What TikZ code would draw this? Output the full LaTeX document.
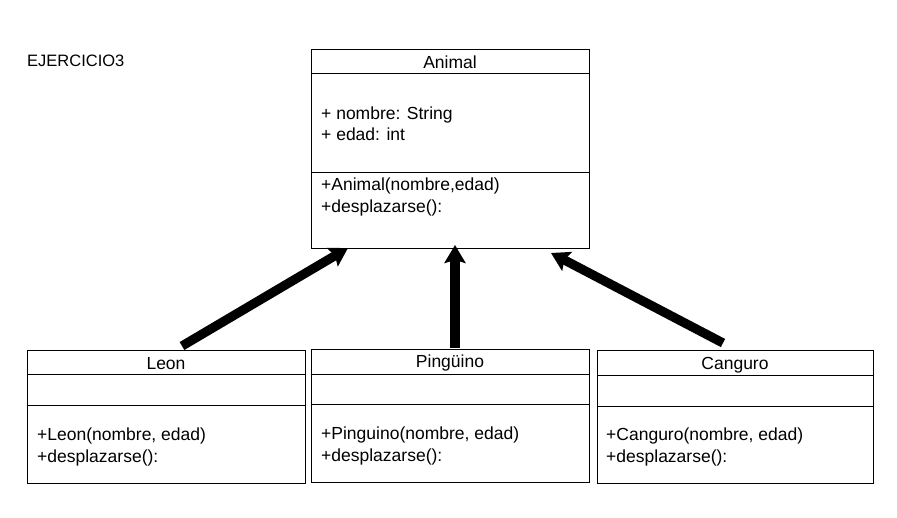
\documentclass[tikz,border=0pt]{standalone}
\usepackage{fontspec}
\setmainfont{Liberation Sans}
\usetikzlibrary{arrows.meta}
\begin{document}
\begin{tikzpicture}[x=1pt,y=-1pt,
  umlbox/.style={draw, line width=0.9pt, anchor=north west, inner sep=0pt, minimum width=#1},
  txt/.style={anchor=base west, inner sep=0pt, font=\fontsize{17.5}{22}\selectfont},
  ttl/.style={anchor=base, inner sep=0pt, font=\fontsize{17.5}{22}\selectfont},
  sep/.style={line width=0.9pt},
  inh/.style={line width=9.2pt, -{Stealth[length=18pt,width=21pt,inset=3pt]}}]
\useasboundingbox (0,0) rectangle (897,517);
% title
\node[anchor=base west, inner sep=0pt, font=\fontsize{16.5}{19}\selectfont] (title) at (27,66) {EJERCICIO3};
% Animal
\node[umlbox=278pt, minimum height=199pt] (animal) at (311,49) {};
\draw[sep] (311,73) -- (589,73);
\draw[sep] (311,172) -- (589,172);
\node[ttl] (animalT) at (450,68) {Animal};
\node[txt] (a1) at (321,119) {+ nombre: String};
\node[txt] (a2) at (321,140) {+ edad: int};
\node[txt] (a3) at (321,190) {+Animal(nombre,edad)};
\node[txt] (a4) at (321,212) {+desplazarse():};
% Leon
\node[umlbox=278pt, minimum height=133pt] (leon) at (27,350) {};
\draw[sep] (27,374) -- (305,374);
\draw[sep] (27,405) -- (305,405);
\node[ttl] (leonT) at (166,369) {Leon};
\node[txt] (l1) at (37,440) {+Leon(nombre, edad)};
\node[txt] (l2) at (37,462) {+desplazarse():};
% Pinguino
\node[umlbox=278pt, minimum height=133pt] (ping) at (311,349) {};
\draw[sep] (311,374) -- (589,374);
\draw[sep] (311,404) -- (589,404);
\node[ttl] (pingT) at (450,367) {Pingüino};
\node[txt] (p1) at (321,439) {+Pinguino(nombre, edad)};
\node[txt] (p2) at (321,461) {+desplazarse():};
% Canguro
\node[umlbox=276pt, minimum height=133pt] (cang) at (597,350) {};
\draw[sep] (597,375) -- (873,375);
\draw[sep] (597,406) -- (873,406);
\node[ttl] (cangT) at (735,369) {Canguro};
\node[txt] (c1) at (606,440) {+Canguro(nombre, edad)};
\node[txt] (c2) at (606,462) {+desplazarse():};
% arrow end points
\coordinate (lt) at (182,346);
\coordinate (lh) at (348,248);
\coordinate (pt) at (455,348);
\coordinate (ph) at (455,245);
\coordinate (ct) at (723,343);
\coordinate (ch) at (551,253);
\draw[inh] (lt) -- (lh);
\draw[inh] (pt) -- (ph);
\draw[inh] (ct) -- (ch);
\end{tikzpicture}
\end{document}
